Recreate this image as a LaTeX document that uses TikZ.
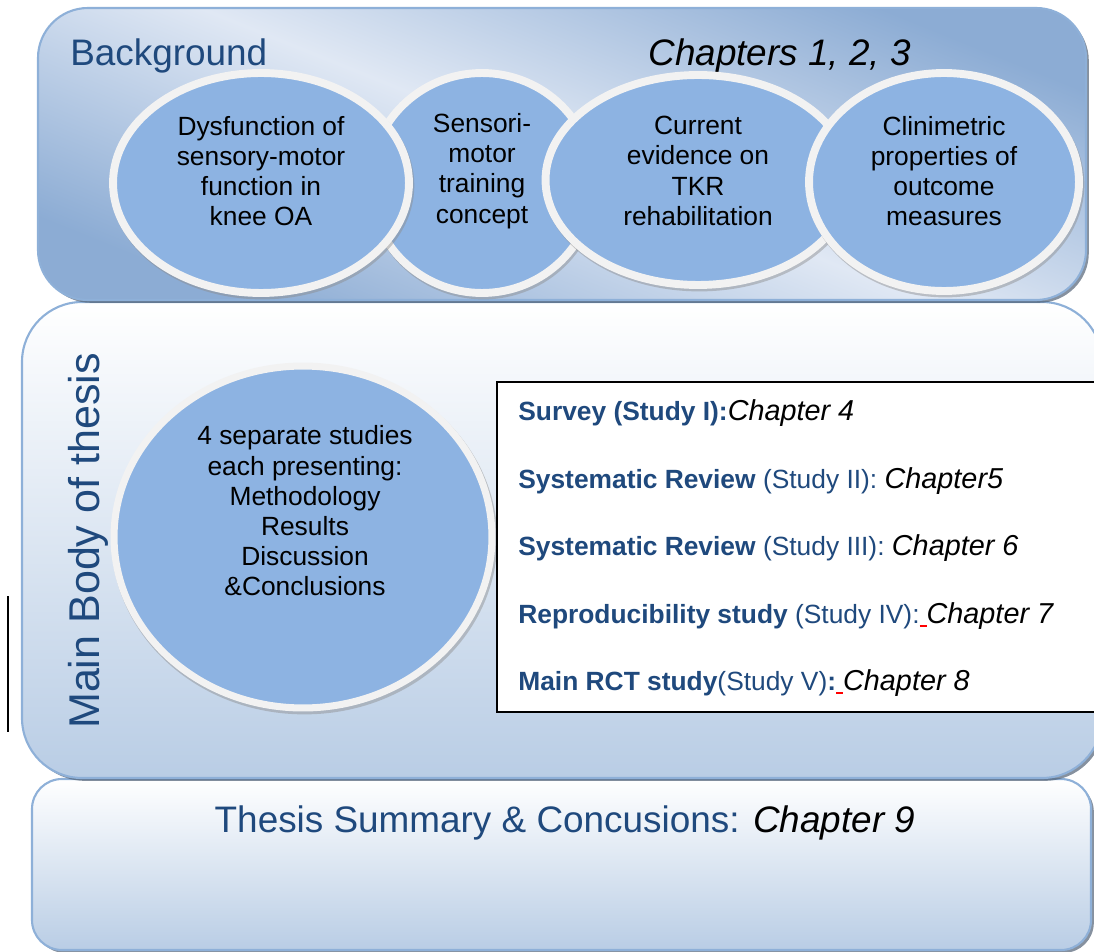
\documentclass[tikz,border=0pt]{standalone}
\usepackage{fontspec}
\setmainfont{Liberation Sans}
\usetikzlibrary{shapes.geometric,shadows}
\definecolor{panelDark}{RGB}{149,179,215}
\definecolor{panelDeep}{RGB}{140,172,212}
\definecolor{panelLight}{RGB}{224,232,244}
\definecolor{panelLow}{RGB}{185,205,229}
\definecolor{panelEdge}{RGB}{142,176,216}
\definecolor{bubbleFill}{RGB}{141,179,226}
\definecolor{bubbleRing}{RGB}{242,242,242}
\definecolor{titleBlue}{RGB}{31,73,125}
\newcommand{\spellmark}{\textcolor{red}{\rule[-2.5pt]{4pt}{1.1pt}}}
\newcommand{\chapref}[1]{{\color{black}\fontsize{16.4}{18}\selectfont\itshape #1}}
\tikzset{
  panel/.style={draw=panelEdge,line width=1.2pt,
    drop shadow={shadow xshift=1.6pt,shadow yshift=-1.6pt,fill=black!45!panelDark,opacity=.7}},
  bubble/.style={ellipse,fill=bubbleFill,draw=bubbleRing,line width=4.5pt,inner sep=0pt,
    drop shadow={shadow xshift=0.8pt,shadow yshift=-1.4pt,draw=black!45,line width=4.5pt,fill=black!45,opacity=.45}},
  bubtext/.style={align=center,inner sep=0pt,font=\fontsize{15}{17.2}\selectfont},
  study/.style={anchor=base west,inner sep=0pt,text=titleBlue,font=\fontsize{15}{18}\selectfont},
  heading/.style={inner sep=0pt,text=titleBlue,font=\fontsize{21}{24}\selectfont}
}
\begin{document}
\begin{tikzpicture}[x=0.02cm,y=-0.02cm]
 \useasboundingbox (0,0) rectangle (1094,952);
 % panels, lowest first
 \shade[panel,rounded corners=0.6cm,top color=white,bottom color=panelLow] (32,779) rectangle (1091,950);
 \shade[panel,rounded corners=1.2cm,top color=white,bottom color=panelLow] (22,302) rectangle (1102,778);
 \shade[panel,rounded corners=1cm,top color=panelDeep,bottom color=panelDeep,middle color=panelLight,shading angle=-22] (38,8) rectangle (1086,300);
 % background row
 \node[heading,anchor=base west] (bg) at (70,66) {Background};
 \node[heading,anchor=base west,text=black,font=\fontsize{21}{24}\selectfont\itshape] (chap) at (648,66) {Chapters 1, 2, 3};
 \node[bubble,minimum width=4.48cm,minimum height=4.4cm] (sens) at (482,183) {};
 \node[bubble,minimum width=5.92cm,minimum height=4.4cm] (dys) at (261,183) {};
 \node[bubble,minimum width=6.1cm,minimum height=4.2cm] (cur) at (698,180) {};
 \node[bubble,minimum width=5.4cm,minimum height=4.36cm] (clin) at (944,182) {};
 \node[bubtext] (senst) at (482,171) {Sensori-\\motor\\training\\concept};
 \node[bubtext] (dyst) at (261,171) {Dysfunction of\\sensory-motor\\function in\\knee OA};
 \node[bubtext] (curt) at (698,171) {Current\\evidence on\\TKR\\rehabilitation};
 \node[bubtext] (clint) at (944,171) {Clinimetric\\properties of\\outcome\\measures};
 % main body
 \node[heading,rotate=90,anchor=base,font=\fontsize{24.5}{28}\selectfont] (mainbody) at (99,541) {Main Body of thesis};
 \draw[line width=1pt] (8,596) -- (8,732);
 \node[bubble,minimum width=7.56cm,minimum height=6.84cm,line width=4pt] (four) at (303,537) {};
 \node[bubtext] (fourt) at (305,511) {4 separate studies\\each presenting:\\Methodology\\Results\\Discussion\\\&Conclusions};
 \draw[fill=white,line width=1.1pt] (497,382) rectangle (1110,712);
 \node[study] (s1) at (518,420) {\textbf{Survey (Study I):}\chapref{Chapter 4}};
 \node[study] (s2) at (518,488) {\textbf{Systematic Review} (Study II): \chapref{Chapter5}};
 \node[study] (s3) at (518,555) {\textbf{Systematic Review} (Study III): \chapref{Chapter 6}};
 \node[study] (s4) at (518,623) {\textbf{Reproducibility study} (Study IV):\spellmark\chapref{Chapter 7}};
 \node[study] (s5) at (518,690) {\textbf{Main RCT study}(Study V)\textbf{:}\spellmark\chapref{Chapter 8}};
 % summary
 \node[heading,anchor=base] (summ) at (565,832) {Thesis Summary \& Concusions: {\color{black}\itshape Chapter 9}};
\end{tikzpicture}
\end{document}
